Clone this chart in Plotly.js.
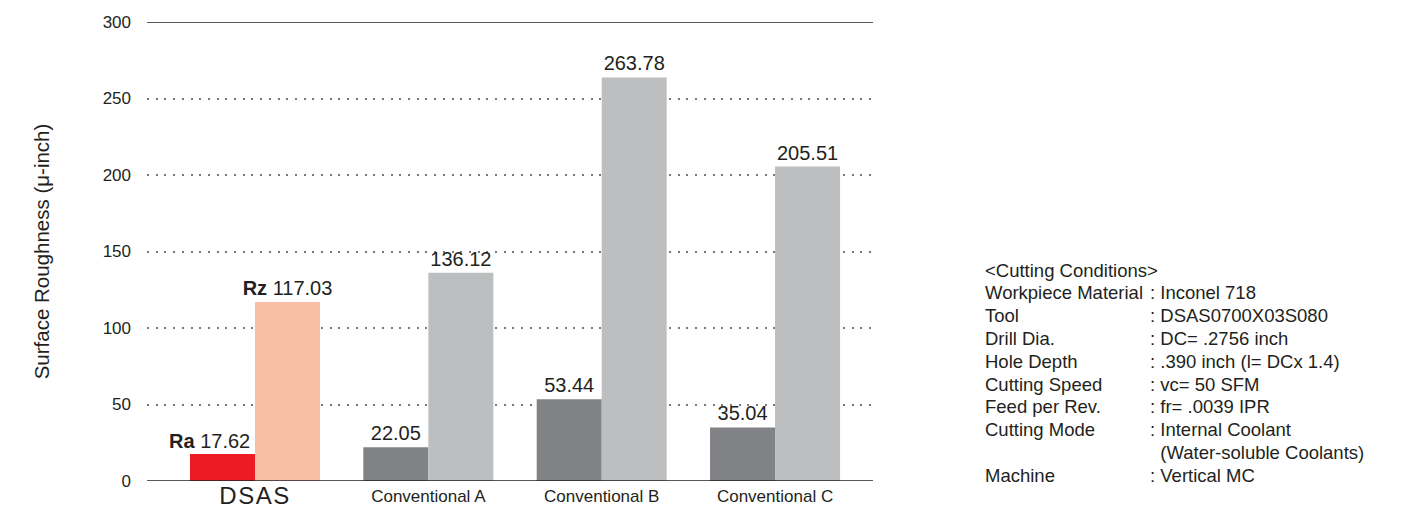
<!DOCTYPE html>
<html>
<head>
<meta charset="utf-8">
<script src="https://cdn.plot.ly/plotly-3.0.1.min.js"></script>
<style>html,body{margin:0;padding:0;background:#fff;}#chart{width:1405px;height:509px;}</style>
</head>
<body>
<div id="chart"></div>
<script>
// ---- data ----
const categories = ["DSAS", "Conventional A", "Conventional B", "Conventional C"];
const tickLabels = ["<span style=\"font-size:24px;letter-spacing:1.5px;baseline-shift:-2px\">DSAS</span>", "Conventional A", "Conventional B", "Conventional C"];
const raValues = [17.62, 22.05, 53.44, 35.04];
const rzValues = [117.03, 136.12, 263.78, 205.51];
const raPrefix = ["<b>Ra</b> ", "", "", ""];
const rzPrefix = ["<b>Rz</b> ", "", "", ""];
const raColors = ["#ED1C24", "#808285", "#808285", "#808285"];
const rzColors = ["#F8BFA6", "#BCBEC0", "#BCBEC0", "#BCBEC0"];
const yTicks = [0, 50, 100, 150, 200, 250, 300];
const conditionLabels = ["<Cutting Conditions>", "Workpiece Material", "Tool", "Drill Dia.", "Hole Depth", "Cutting Speed", "Feed per Rev.", "Cutting Mode", "", "Machine"];
const conditionValues = ["", ": Inconel 718", ": DSAS0700X03S080", ": DC= .2756 inch", ": .390 inch (l= DCx 1.4)", ": vc= 50 SFM", ": fr= .0039 IPR", ": Internal Coolant", "  (Water-soluble Coolants)", ": Vertical MC"];

const FONT = "Liberation Sans, Arial, sans-serif";
const TXT = "#231F20";
const xIdx = categories.map((c, i) => i);

const traces = [
  {
    type: "bar", name: "Ra", x: xIdx, y: raValues,
    marker: {color: raColors, line: {width: 0}},
    text: raValues.map((v, i) => i === 0 ? "" : raPrefix[i] + v.toFixed(2)), textposition: "outside", cliponaxis: false,
    constraintext: "none",
    textfont: {family: FONT, size: 20, color: TXT}, hoverinfo: "skip"
  },
  {
    type: "bar", name: "Rz", x: xIdx, y: rzValues,
    marker: {color: rzColors, line: {width: 0}},
    text: rzValues.map((v, i) => rzPrefix[i] + v.toFixed(2)), textposition: "outside", cliponaxis: false,
    constraintext: "none",
    textfont: {family: FONT, size: 20, color: TXT}, hoverinfo: "skip"
  }
];

const annotations = [
  {xref: "x", yref: "y", x: 0 - 0.1875, y: raValues[0], text: raPrefix[0] + raValues[0].toFixed(2), showarrow: false,
   xanchor: "center", yanchor: "bottom", xshift: -13, yshift: 0, font: {family: FONT, size: 20, color: TXT}}
];
const lineH = 22.8;
const top0 = 270;
conditionLabels.forEach((lab, i) => {
  const ypx = top0 + i * lineH;
  const yp = 1 - (ypx - 22) / 459;
  if (lab) annotations.push({xref: "paper", yref: "paper", x: (983 - 147) / 726, y: yp, text: lab.replace("<", "&lt;").replace(">", "&gt;"),
    showarrow: false, xanchor: "left", yanchor: "middle", font: {family: FONT, size: 18.5, color: TXT}});
  if (conditionValues[i]) annotations.push({xref: "paper", yref: "paper", x: (1148 - 147) / 726, y: yp, text: conditionValues[i].replace(/ /g, "&nbsp;").replace(/&nbsp;(?=[^&])/g, " "),
    showarrow: false, xanchor: "left", yanchor: "middle", font: {family: FONT, size: 18.5, color: TXT}});
});

const shapes = [
  {type: "line", xref: "paper", yref: "y", x0: 0, x1: 1, y0: 300, y1: 300, line: {color: "#231F20", width: 1.5}},
  {type: "line", xref: "paper", yref: "y", x0: 0, x1: 1, y0: 0, y1: 0, line: {color: "#231F20", width: 1.5}}
];

const layout = {
  width: 1405, height: 509,
  margin: {l: 147, r: 532, t: 22, b: 28, autoexpand: false},
  paper_bgcolor: "#fff", plot_bgcolor: "#fff",
  barmode: "group", bargap: 0.25, bargroupgap: 0,
  showlegend: false,
  font: {family: FONT, color: TXT},
  xaxis: {
    type: "linear", range: [-0.623, 3.565], tickvals: xIdx, ticktext: tickLabels,
    showgrid: false, zeroline: false, showline: false, ticks: "",
    ticklabelstandoff: 3,
    tickfont: {family: FONT, size: 17, color: TXT}, fixedrange: true
  },
  yaxis: {
    range: [0, 300], tickvals: yTicks, showgrid: true, gridcolor: "#7a7a7a", gridwidth: 2,
    griddash: "2px,6.7px", zeroline: false, showline: false, ticks: "",
    ticklabelstandoff: 15,
    tickfont: {family: FONT, size: 17, color: TXT},
    title: {text: "Surface Roughness (μ-inch)", font: {family: FONT, size: 20.5, color: TXT}, standoff: 47},
    fixedrange: true
  },
  shapes: shapes,
  annotations: annotations
};

Plotly.newPlot("chart", traces, layout, {displayModeBar: false, staticPlot: true});
</script>
</body>
</html>
